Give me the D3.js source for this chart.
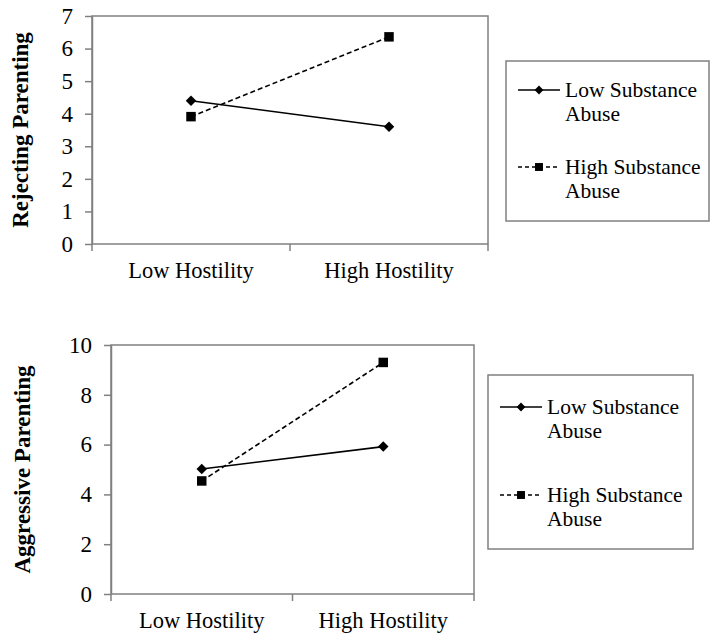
<!DOCTYPE html>
<html>
<head>
<meta charset="utf-8">
<script src="https://cdn.jsdelivr.net/npm/d3@7"></script>
<style>
  body { margin: 0; background: #fff; }
</style>
</head>
<body>
<div id="chart"></div>
<script>
// categories on the x axis
const categories = ["Low Hostility", "High Hostility"];
// series (legend labels, each split in two lines like the original)
const seriesNames = [["Low Substance", "Abuse"], ["High Substance", "Abuse"]];

// top panel: rejecting parenting
const rejectingLow = [4.40, 3.60];
const rejectingHigh = [3.91, 6.36];
const rejectingTicks = [0, 1, 2, 3, 4, 5, 6, 7];

// bottom panel: aggressive parenting
const aggressiveLow = [5.02, 5.92];
const aggressiveHigh = [4.54, 9.30];
const aggressiveTicks = [0, 2, 4, 6, 8, 10];

const W = 719, H = 643;
const axisColor = "#808080";
const serif = "'Liberation Serif', 'Times New Roman', serif";

const svg = d3.select("#chart")
    .append("svg")
    .attr("width", W)
    .attr("height", H);

function drawPanel(p) {
    const g = svg.append("g");

    const x = d3.scaleBand()
        .domain(categories)
        .range([p.left, p.right])
        .padding(0);

    const y = d3.scaleLinear()
        .domain([0, d3.max(p.ticks)])
        .range([p.bottom, p.top]);

    // plot box
    g.append("rect")
        .attr("x", p.left)
        .attr("y", p.top)
        .attr("width", p.right - p.left)
        .attr("height", p.bottom - p.top)
        .attr("fill", "none")
        .attr("stroke", axisColor)
        .attr("stroke-width", 1.5);

    // y axis
    const yAxis = g.append("g")
        .attr("transform", `translate(${p.left},0)`)
        .call(d3.axisLeft(y).tickValues(p.ticks).tickFormat(d3.format("d"))
            .tickSize(7).tickPadding(12).tickSizeOuter(0));
    yAxis.attr("font-family", serif);
    yAxis.select(".domain").attr("stroke", axisColor).attr("stroke-width", 1.5);
    yAxis.selectAll(".tick line").attr("stroke", axisColor).attr("stroke-width", 1.5);
    yAxis.selectAll("text")
        .attr("font-size", 23)
        .attr("font-family", serif)
        .attr("fill", "#000");

    // x axis labels (ticks sit on the category boundaries, like Excel)
    const xAxis = g.append("g")
        .attr("transform", `translate(0,${p.bottom})`)
        .call(d3.axisBottom(x).tickSize(0).tickPadding(18));
    xAxis.attr("font-family", serif);
    xAxis.select(".domain").remove();
    xAxis.selectAll("text")
        .attr("font-size", 22.5)
        .attr("font-family", serif)
        .attr("fill", "#000");

    const bounds = categories.map(c => x(c)).concat([x(categories[categories.length - 1]) + x.bandwidth()]);
    g.selectAll(".xtick")
        .data(bounds)
        .join("line")
        .attr("x1", d => d).attr("x2", d => d)
        .attr("y1", p.bottom).attr("y2", p.bottom + 7)
        .attr("stroke", axisColor)
        .attr("stroke-width", 1.5);

    // y axis title
    g.append("text")
        .attr("transform", `translate(${p.titleX},${(p.top + p.bottom) / 2}) rotate(-90)`)
        .attr("text-anchor", "middle")
        .attr("dominant-baseline", "middle")
        .attr("font-family", serif)
        .attr("font-size", 23)
        .attr("font-weight", "bold")
        .text(p.title);

    const line = d3.line()
        .x((d, i) => x(categories[i]) + x.bandwidth() / 2)
        .y(d => y(d));

    const series = [
        { values: p.low, dash: null, symbol: d3.symbolDiamond2, size: 70 },
        { values: p.high, dash: "5,3", symbol: d3.symbolSquare, size: 90 }
    ];

    series.forEach(s => {
        g.append("path")
            .datum(s.values)
            .attr("d", line)
            .attr("fill", "none")
            .attr("stroke", "#000")
            .attr("stroke-width", 1.6)
            .attr("stroke-dasharray", s.dash);

        g.selectAll(null)
            .data(s.values)
            .join("path")
            .attr("transform", (d, i) => `translate(${x(categories[i]) + x.bandwidth() / 2},${y(d)})`)
            .attr("d", d3.symbol().type(s.symbol).size(s.size))
            .attr("fill", "#000");
    });

    // legend
    const lg = g.append("g");
    lg.append("rect")
        .attr("x", p.legend.x)
        .attr("y", p.legend.y)
        .attr("width", p.legend.w)
        .attr("height", p.legend.h)
        .attr("fill", "none")
        .attr("stroke", axisColor)
        .attr("stroke-width", 1.5);

    series.forEach((s, i) => {
        const ly = p.legend.y + p.legend.rows[i];
        const lx = p.legend.x + 12;
        lg.append("line")
            .attr("x1", lx).attr("x2", lx + 42)
            .attr("y1", ly).attr("y2", ly)
            .attr("stroke", "#000")
            .attr("stroke-width", 1.6)
            .attr("stroke-dasharray", s.dash ? "4,3" : null);
        lg.append("path")
            .attr("transform", `translate(${lx + 21},${ly})`)
            .attr("d", d3.symbol().type(s.symbol).size(s.size * 0.7))
            .attr("fill", "#000");
        const t = lg.append("text")
            .attr("x", lx + 47)
            .attr("y", ly + 7)
            .attr("font-family", serif)
            .attr("font-size", 21.5)
            .attr("fill", "#000");
        seriesNames[i].forEach((txt, k) => {
            t.append("tspan")
                .attr("x", lx + 47)
                .attr("dy", k === 0 ? 0 : p.legend.lineGap)
                .text(txt);
        });
    });
}

drawPanel({
    left: 92, right: 488, top: 16, bottom: 244,
    ticks: rejectingTicks,
    low: rejectingLow, high: rejectingHigh,
    title: "Rejecting Parenting", titleX: 23,
    legend: { x: 506, y: 61, w: 203, h: 160, rows: [29, 106], lineGap: 24 }
});

drawPanel({
    left: 111, right: 474, top: 345, bottom: 594,
    ticks: aggressiveTicks,
    low: aggressiveLow, high: aggressiveHigh,
    title: "Aggressive Parenting", titleX: 25,
    legend: { x: 488, y: 375, w: 205, h: 174, rows: [32, 120], lineGap: 24 }
});
</script>
</body>
</html>
